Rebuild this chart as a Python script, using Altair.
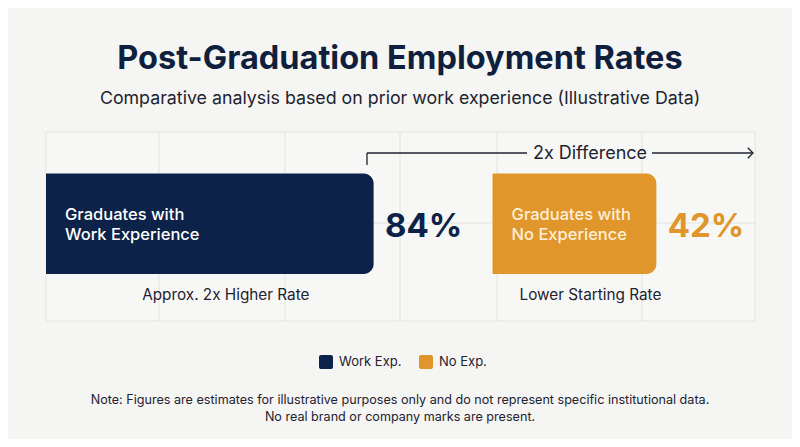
import altair as alt
import pandas as pd

# ---------------- data ----------------
categories = ["Graduates with\nWork Experience", "Graduates with\nNo Experience"]
legend_labels = ["Work Exp.", "No Exp."]
rates = [84, 42]
value_labels = ["84%", "42%"]
sub_labels = ["Approx. 2x Higher Rate", "Lower Starting Rate"]
annotation_text = "2x Difference"
title_text = "Post-Graduation Employment Rates"
subtitle_text = "Comparative analysis based on prior work experience (Illustrative Data)"
note_lines = [
    "Note: Figures are estimates for illustrative purposes only and do not represent specific institutional data.",
    "No real brand or company marks are present.",
]

# ---------------- style / layout ----------------
W, H = 784, 431
BG = "#f5f5f3"
PANEL = "#f7f7f5"
GRID = "#e3e3e0"
NAVY = "#0c2248"
ORANGE = "#e0962a"
CREAM = "#fcefd8"
INK = "#1e2330"
TITLE = "#0f1f3d"
FONT = "Inter"

PX_PER_UNIT = 3.9
PANEL_X0, PANEL_X1 = 38, 747
PANEL_Y0, PANEL_Y1 = 124, 313
SECOND_BAR_START = 114.5  # layout offset (units) of the second bar
starts = [0, SECOND_BAR_START]
ends = [s + r for s, r in zip(starts, rates)]

XS = alt.Scale(domain=[0, (PANEL_X1 - PANEL_X0) / PX_PER_UNIT], range=[PANEL_X0, PANEL_X1], nice=False, zero=False)

df = pd.DataFrame({
    "category": categories,
    "line1": [c.split("\n")[0] for c in categories],
    "line2": [c.split("\n")[1] for c in categories],
    "legend": legend_labels,
    "rate": rates,
    "start": starts,
    "end": ends,
    "mid": [(s + e) / 2 for s, e in zip(starts, ends)],
    "lx": [e + 2.9 for e in ends],
    "value_label": value_labels,
    "sub": sub_labels,
    "bar_col": [NAVY, ORANGE],
    "inner_col": ["#ffffff", CREAM],
})

one = pd.DataFrame({"k": [0]})

panel = alt.Chart(one).mark_rect(fill=PANEL, stroke=GRID, strokeWidth=1).encode(
    x=alt.value(PANEL_X0), x2=alt.value(PANEL_X1), y=alt.value(PANEL_Y0), y2=alt.value(PANEL_Y1)
)

grid_layers = []
for gx in [151, 277, 392, 489, 634]:
    grid_layers.append(
        alt.Chart(one).mark_rule(color=GRID, strokeWidth=1).encode(
            x=alt.value(gx), y=alt.value(PANEL_Y0), y2=alt.value(PANEL_Y1)
        )
    )
grid_layers.append(
    alt.Chart(one).mark_rule(color=GRID, strokeWidth=1).encode(
        x=alt.value(PANEL_X0), x2=alt.value(PANEL_X1), y=alt.value(215)
    )
)

rounded_sq = "M-0.7,-1 H0.7 A0.3,0.3 0 0 1 1,-0.7 V0.7 A0.3,0.3 0 0 1 0.7,1 H-0.7 A0.3,0.3 0 0 1 -1,0.7 V-0.7 A0.3,0.3 0 0 1 -0.7,-1 Z"

base = alt.Chart(df)

bars = base.mark_bar(cornerRadiusTopRight=10, cornerRadiusBottomRight=10).encode(
    x=alt.X("start:Q", scale=XS, axis=None),
    x2="end:Q",
    y=alt.value(165.5),
    y2=alt.value(266),
    color=alt.Color(
        "legend:N",
        scale=alt.Scale(domain=legend_labels, range=[NAVY, ORANGE]),
        legend=alt.Legend(
            title=None, orient="none", legendX=311, legendY=347, direction="horizontal",
            symbolType=rounded_sq, symbolSize=196, symbolStrokeWidth=0, symbolOpacity=1,
            labelFont=FONT, labelFontSize=13, labelColor=INK, labelOffset=6,
            columnPadding=17, padding=0,
        ),
    ),
)

inner_layers = []
for field, yy in [("line1", 212), ("line2", 232)]:
    inner_layers.append(
        base.mark_text(
            align="left", baseline="alphabetic", font=FONT, fontSize=16.5, fontWeight=500, dx=19,
        ).encode(
            x=alt.X("start:Q", scale=XS), y=alt.value(yy), text=f"{field}:N",
            color=alt.Color("inner_col:N", scale=None),
        )
    )

vals = base.mark_text(align="left", baseline="alphabetic", font=FONT, fontSize=33, fontWeight=700).encode(
    x=alt.X("lx:Q", scale=XS), y=alt.value(229), text="value_label:N",
    color=alt.Color("bar_col:N", scale=None),
)

subs = base.mark_text(align="center", baseline="alphabetic", font=FONT, fontSize=15.3, dx=16, color=INK).encode(
    x=alt.X("mid:Q", scale=XS), y=alt.value(292), text="sub:N",
)

# annotation bracket + arrow
ann = [
    alt.Chart(one).mark_rule(color=INK, strokeWidth=1.3).encode(x=alt.value(359), y=alt.value(145), y2=alt.value(157)),
    alt.Chart(one).mark_rule(color=INK, strokeWidth=1.3).encode(x=alt.value(359), x2=alt.value(519), y=alt.value(145)),
    alt.Chart(one).mark_rule(color=INK, strokeWidth=1.3).encode(x=alt.value(644), x2=alt.value(745), y=alt.value(145)),
    alt.Chart(one).mark_point(shape="M-1,-1L0,0L-1,1", filled=False, size=110, strokeWidth=1.3, color=INK, opacity=1).encode(
        x=alt.value(745), y=alt.value(145)
    ),
    alt.Chart(one).mark_text(text=annotation_text, font=FONT, fontSize=18, color=INK, align="center", baseline="alphabetic").encode(
        x=alt.value(582), y=alt.value(150.5)
    ),
]

title = alt.Chart(one).mark_text(text=title_text, font=FONT, fontSize=32.5, fontWeight=700, color=TITLE,
                                 align="center", baseline="alphabetic").encode(x=alt.value(392), y=alt.value(61))
subtitle = alt.Chart(one).mark_text(text=subtitle_text, font=FONT, fontSize=17.8, color=INK,
                                    align="center", baseline="alphabetic").encode(x=alt.value(392), y=alt.value(96))
notes = [
    alt.Chart(one).mark_text(text=t, font=FONT, fontSize=12.6, color=INK, align="center", baseline="alphabetic").encode(
        x=alt.value(392), y=alt.value(yy)
    )
    for t, yy in zip(note_lines, [396, 413])
]

chart = alt.layer(panel, *grid_layers, bars, *inner_layers, vals, subs, *ann, title, subtitle, *notes).properties(
    width=W, height=H, background=BG, padding=0,
    autosize=alt.AutoSizeParams(type="none"),
).configure_view(stroke=None)

chart.save("out.html", embed_options={"renderer": "svg", "actions": False})
